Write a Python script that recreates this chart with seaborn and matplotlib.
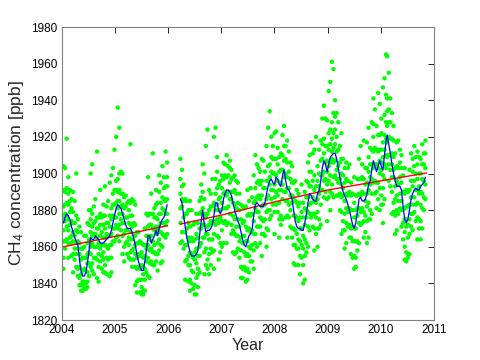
import numpy as np
import pandas as pd
import matplotlib
matplotlib.use("Agg")
import matplotlib.pyplot as plt
import seaborn as sns

# sample dates (decimal year); 2006.10 is the data gap
sample_year = [
    2004.03, 2004.06, 2004.09, 2004.12, 2004.15, 2004.18, 2004.21, 2004.24, 2004.27, 2004.30,
    2004.33, 2004.36, 2004.39, 2004.42, 2004.45, 2004.48, 2004.51, 2004.54, 2004.57, 2004.60,
    2004.63, 2004.66, 2004.69, 2004.72, 2004.75, 2004.78, 2004.81, 2004.84, 2004.87, 2004.90,
    2004.93, 2004.96, 2004.99, 2005.02, 2005.05, 2005.08, 2005.11, 2005.14, 2005.17, 2005.20,
    2005.23, 2005.26, 2005.29, 2005.32, 2005.35, 2005.38, 2005.41, 2005.44, 2005.47, 2005.50,
    2005.53, 2005.56, 2005.59, 2005.62, 2005.65, 2005.68, 2005.71, 2005.74, 2005.77, 2005.80,
    2005.83, 2005.86, 2005.89, 2005.92, 2005.95, 2005.98,
    2006.10,
    2006.23, 2006.26, 2006.29, 2006.32, 2006.35, 2006.38, 2006.41, 2006.44, 2006.47, 2006.50,
    2006.53, 2006.56, 2006.59, 2006.62, 2006.65, 2006.68, 2006.71, 2006.74, 2006.77, 2006.80,
    2006.83, 2006.86, 2006.89, 2006.92, 2006.95, 2006.98, 2007.01, 2007.04, 2007.07, 2007.10,
    2007.13, 2007.16, 2007.19, 2007.22, 2007.25, 2007.28, 2007.31, 2007.34, 2007.37, 2007.40,
    2007.43, 2007.46, 2007.49, 2007.52, 2007.55, 2007.58, 2007.61, 2007.64, 2007.67, 2007.70,
    2007.73, 2007.76, 2007.79, 2007.82, 2007.85, 2007.88, 2007.91, 2007.94, 2007.97, 2008.00,
    2008.03, 2008.06, 2008.09, 2008.12, 2008.15, 2008.18, 2008.21, 2008.24, 2008.27, 2008.30,
    2008.33, 2008.36, 2008.39, 2008.42, 2008.45, 2008.48, 2008.51, 2008.54, 2008.57, 2008.60,
    2008.63, 2008.66, 2008.69, 2008.72, 2008.75, 2008.78, 2008.81, 2008.84, 2008.87, 2008.90,
    2008.93, 2008.96, 2008.99, 2009.02, 2009.05, 2009.08, 2009.11, 2009.14, 2009.17, 2009.20,
    2009.23, 2009.26, 2009.29, 2009.32, 2009.35, 2009.38, 2009.41, 2009.44, 2009.47, 2009.50,
    2009.53, 2009.56, 2009.59, 2009.62, 2009.65, 2009.68, 2009.71, 2009.74, 2009.77, 2009.80,
    2009.83, 2009.86, 2009.89, 2009.92, 2009.95, 2009.98, 2010.01, 2010.04, 2010.07, 2010.10,
    2010.12, 2010.15, 2010.18, 2010.21, 2010.24, 2010.27, 2010.30, 2010.33, 2010.36, 2010.39,
    2010.42, 2010.45, 2010.48, 2010.51, 2010.54, 2010.57, 2010.60, 2010.63, 2010.66, 2010.69,
    2010.72, 2010.75, 2010.78, 2010.81, 2010.84,
]

# smoothed CH4 (blue curve), ppb
ch4_smooth = [
    1873, 1876, 1878, 1877, 1875, 1871, 1868, 1865, 1863, 1861,
    1853, 1847, 1844, 1844, 1846, 1851, 1858, 1865, 1864, 1864,
    1866, 1865, 1864, 1862, 1862, 1862, 1863, 1864, 1865, 1866,
    1869, 1873, 1877, 1881, 1883, 1882, 1881, 1878, 1875, 1872,
    1870, 1870, 1870, 1868, 1865, 1861, 1856, 1852, 1849, 1847,
    1847, 1852, 1858, 1866, 1866, 1862, 1864, 1866, 1869, 1866,
    1870, 1873, 1875, 1876, 1879, 1883,
    np.nan,
    1886, 1884, 1877, 1871, 1865, 1861, 1857, 1855, 1855, 1855,
    1856, 1858, 1866, 1874, 1880, 1872, 1868, 1869, 1869, 1870,
    1872, 1877, 1884, 1884, 1880, 1878, 1880, 1886, 1889, 1891,
    1891, 1890, 1888, 1884, 1880, 1877, 1874, 1872, 1868, 1864,
    1861, 1860, 1863, 1866, 1867, 1870, 1877, 1883, 1884, 1883,
    1882, 1882, 1882, 1884, 1889, 1893, 1896, 1897, 1895, 1894,
    1898, 1897, 1894, 1893, 1899, 1902, 1896, 1892, 1891, 1889,
    1886, 1880, 1874, 1871, 1870, 1870, 1869, 1869, 1873, 1878,
    1884, 1889, 1888, 1886, 1885, 1885, 1889, 1891, 1896, 1903,
    1907, 1905, 1901, 1905, 1909, 1910, 1911, 1911, 1908, 1903,
    1898, 1894, 1890, 1888, 1886, 1883, 1880, 1876, 1872, 1870,
    1873, 1879, 1886, 1887, 1885, 1885, 1886, 1889, 1894, 1896,
    1902, 1907, 1904, 1901, 1904, 1907, 1904, 1902, 1910, 1918,
    1921, 1916, 1911, 1905, 1900, 1896, 1893, 1893, 1893, 1891,
    1882, 1875, 1873, 1875, 1880, 1886, 1889, 1891, 1892, 1891,
    1891, 1893, 1894, 1895, 1898,
]

# individual CH4 readings at each sample date, ppb
ch4_obs = [
    # 2004.03 - 2005.98
    [1848, 1854, 1863, 1869, 1876, 1882, 1891, 1904], [1859, 1863, 1874, 1878, 1883, 1890, 1903],
    [1864, 1871, 1877, 1884, 1892, 1919], [1854, 1862, 1869, 1875, 1883, 1889, 1898],
    [1865, 1872, 1879, 1885, 1891], [1855, 1862, 1866, 1874, 1881, 1886],
    [1846, 1856, 1863, 1868, 1873, 1879, 1890], [1853, 1859, 1866, 1873, 1885],
    [1849, 1856, 1862, 1869, 1877, 1900], [1844, 1848, 1859, 1863, 1868, 1875],
    [1839, 1843, 1849, 1856, 1862, 1871], [1836, 1839, 1845, 1853, 1859, 1868],
    [1836, 1839, 1841, 1847, 1854, 1859], [1837, 1841, 1848, 1854, 1860, 1866],
    [1837, 1840, 1847, 1854, 1866], [1838, 1841, 1846, 1851, 1856, 1862, 1873],
    [1844, 1851, 1857, 1864, 1872, 1880], [1849, 1856, 1860, 1868, 1875, 1880, 1900],
    [1847, 1851, 1862, 1866, 1871, 1878, 1905], [1845, 1854, 1860, 1867, 1873, 1882],
    [1854, 1860, 1867, 1874, 1886], [1843, 1853, 1860, 1865, 1870, 1876, 1912],
    [1841, 1849, 1856, 1862, 1870, 1876], [1852, 1859, 1866, 1872, 1878, 1891],
    [1848, 1855, 1861, 1868, 1876], [1846, 1853, 1857, 1865, 1872, 1877, 1883],
    [1846, 1850, 1861, 1865, 1870, 1877, 1893], [1845, 1854, 1860, 1867, 1873, 1882],
    [1853, 1859, 1866, 1873, 1885], [1844, 1854, 1861, 1866, 1871, 1877, 1895],
    [1846, 1854, 1861, 1867, 1875, 1881, 1899], [1863, 1870, 1877, 1883, 1889, 1903],
    [1863, 1870, 1876, 1883, 1891, 1913], [1865, 1872, 1876, 1884, 1891, 1896, 1920],
    [1866, 1870, 1881, 1885, 1890, 1897, 1936], [1863, 1872, 1878, 1885, 1891, 1900, 1925],
    [1869, 1875, 1882, 1889, 1901], [1856, 1866, 1873, 1878, 1883, 1889, 1900],
    [1852, 1860, 1867, 1873, 1881, 1887], [1862, 1869, 1876, 1882, 1888],
    [1856, 1863, 1869, 1876, 1884], [1854, 1861, 1865, 1873, 1880, 1885],
    [1853, 1857, 1868, 1872, 1877, 1884, 1916], [1849, 1858, 1864, 1871, 1877, 1886],
    [1853, 1859, 1866, 1873, 1885], [1839, 1849, 1856, 1861, 1866, 1872, 1883],
    [1835, 1841, 1848, 1854, 1862, 1868], [1842, 1849, 1856, 1862, 1868],
    [1835, 1842, 1848, 1855, 1863], [1834, 1838, 1842, 1850, 1857, 1862],
    [1834, 1836, 1845, 1849, 1854, 1861], [1836, 1842, 1848, 1855, 1861, 1870],
    [1846, 1852, 1859, 1866, 1878], [1844, 1854, 1861, 1866, 1871, 1877, 1898],
    [1843, 1851, 1858, 1864, 1872, 1878], [1852, 1859, 1866, 1872, 1878, 1889],
    [1850, 1857, 1863, 1870, 1878, 1911], [1850, 1857, 1861, 1869, 1876, 1881],
    [1852, 1856, 1867, 1871, 1876, 1883, 1891], [1847, 1856, 1862, 1869, 1875, 1884],
    [1858, 1864, 1871, 1878, 1890, 1899], [1851, 1861, 1868, 1873, 1878, 1884, 1895],
    [1852, 1860, 1867, 1873, 1881, 1887, 1904], [1866, 1873, 1880, 1886, 1892, 1898],
    [1865, 1872, 1878, 1885, 1893, 1912], [1867, 1874, 1878, 1886, 1893, 1898, 1906],
    # gap
    [],
    # 2006.23 - 2010.84
    [1862, 1873, 1881, 1889, 1897, 1908], [1863, 1868, 1882, 1886, 1893, 1902],
    [1859, 1868, 1876, 1885, 1894], [1842, 1852, 1861, 1868, 1878, 1886],
    [1853, 1861, 1870, 1878, 1885], [1841, 1850, 1855, 1865, 1873, 1880],
    [1836, 1842, 1850, 1857, 1863, 1871, 1885], [1840, 1847, 1856, 1865, 1880],
    [1837, 1846, 1854, 1863, 1872], [1834, 1839, 1853, 1857, 1864, 1873],
    [1834, 1843, 1851, 1859, 1867, 1878], [1838, 1845, 1848, 1855, 1865, 1873],
    [1846, 1855, 1860, 1870, 1878, 1885], [1862, 1870, 1879, 1887, 1894],
    [1865, 1872, 1881, 1890, 1905], [1845, 1857, 1865, 1872, 1878, 1886, 1900],
    [1850, 1859, 1867, 1876, 1915], [1848, 1853, 1867, 1871, 1878, 1924],
    [1845, 1856, 1864, 1872, 1880, 1891], [1850, 1859, 1864, 1874, 1882, 1889],
    [1857, 1864, 1873, 1882, 1897], [1848, 1858, 1867, 1874, 1884, 1920],
    [1872, 1880, 1889, 1897, 1925], [1866, 1875, 1883, 1892, 1901, 1909],
    [1853, 1865, 1873, 1880, 1886, 1894], [1857, 1862, 1876, 1880, 1887, 1896],
    [1860, 1869, 1874, 1884, 1892, 1899], [1862, 1873, 1881, 1889, 1897, 1906],
    [1874, 1881, 1890, 1899, 1905], [1862, 1872, 1881, 1888, 1898, 1910],
    [1873, 1882, 1890, 1899, 1904], [1878, 1886, 1895, 1903, 1907],
    [1867, 1872, 1886, 1890, 1897, 1902], [1857, 1869, 1877, 1884, 1890, 1898],
    [1856, 1867, 1875, 1883, 1891, 1899], [1857, 1866, 1871, 1881, 1889, 1896],
    [1859, 1866, 1875, 1884, 1895], [1854, 1863, 1871, 1880, 1889],
    [1843, 1849, 1858, 1865, 1875, 1883], [1843, 1848, 1862, 1866, 1873, 1882],
    [1849, 1857, 1866, 1874, 1881], [1841, 1847, 1855, 1863, 1871, 1882],
    [1842, 1848, 1856, 1863, 1869, 1877, 1891], [1846, 1855, 1860, 1870, 1878, 1885],
    [1852, 1859, 1868, 1877, 1892], [1852, 1861, 1869, 1878, 1887],
    [1848, 1858, 1867, 1874, 1884, 1899], [1862, 1867, 1881, 1885, 1892, 1910],
    [1860, 1871, 1879, 1887, 1895, 1905], [1871, 1879, 1888, 1896, 1903],
    [1862, 1871, 1876, 1886, 1894, 1901], [1855, 1867, 1875, 1882, 1888, 1896, 1908],
    [1867, 1874, 1883, 1892, 1907], [1866, 1875, 1883, 1892, 1901],
    [1860, 1870, 1879, 1886, 1896, 1915], [1869, 1880, 1888, 1896, 1904, 1925],
    [1875, 1880, 1894, 1898, 1905, 1934], [1877, 1886, 1891, 1901, 1909, 1920],
    [1883, 1891, 1900, 1908, 1915], [1867, 1879, 1887, 1894, 1900, 1908, 1922],
    [1883, 1890, 1899, 1908, 1923], [1879, 1888, 1896, 1905, 1914],
    [1865, 1875, 1884, 1891, 1901, 1909], [1872, 1877, 1891, 1895, 1902, 1911],
    [1875, 1886, 1894, 1902, 1910, 1921], [1890, 1898, 1907, 1915, 1926],
    [1876, 1885, 1890, 1900, 1908, 1915], [1865, 1877, 1885, 1892, 1898, 1906, 1918],
    [1876, 1883, 1892, 1901, 1912], [1871, 1880, 1888, 1897, 1906],
    [1865, 1870, 1884, 1888, 1895, 1904], [1851, 1861, 1870, 1877, 1887, 1895],
    [1850, 1861, 1869, 1877, 1885, 1896], [1859, 1867, 1876, 1884, 1891],
    [1850, 1859, 1864, 1874, 1882, 1889], [1845, 1855, 1863, 1870, 1876, 1884],
    [1854, 1861, 1870, 1879, 1894], [1840, 1850, 1859, 1866, 1876, 1884],
    [1842, 1855, 1864, 1872, 1881, 1890], [1857, 1862, 1876, 1880, 1887, 1896],
    [1860, 1871, 1879, 1887, 1895, 1906], [1869, 1878, 1883, 1893, 1901, 1910],
    [1876, 1884, 1893, 1901, 1917], [1871, 1878, 1887, 1896, 1911],
    [1858, 1870, 1878, 1885, 1891, 1899, 1913], [1867, 1876, 1884, 1893, 1920],
    [1860, 1870, 1879, 1886, 1896, 1904], [1870, 1875, 1889, 1893, 1900, 1913],
    [1872, 1883, 1891, 1899, 1907, 1918], [1891, 1899, 1908, 1916, 1930],
    [1887, 1896, 1901, 1911, 1919, 1937], [1890, 1897, 1906, 1915, 1930],
    [1874, 1886, 1894, 1901, 1907, 1915, 1929], [1887, 1896, 1904, 1913, 1922, 1945],
    [1880, 1890, 1899, 1906, 1916, 1924, 1950], [1889, 1894, 1908, 1912, 1919, 1928, 1961],
    [1887, 1898, 1906, 1914, 1922, 1933, 1957], [1899, 1907, 1916, 1924, 1931, 1940],
    [1888, 1897, 1902, 1912, 1920, 1933], [1888, 1895, 1904, 1913, 1928],
    [1880, 1889, 1897, 1906, 1915], [1867, 1879, 1887, 1894, 1900, 1908, 1922],
    [1869, 1874, 1888, 1892, 1899, 1908], [1859, 1869, 1878, 1885, 1895, 1903],
    [1862, 1873, 1881, 1889, 1897, 1906], [1871, 1879, 1888, 1896, 1903],
    [1865, 1872, 1881, 1890, 1905], [1856, 1865, 1870, 1880, 1888, 1895],
    [1854, 1863, 1871, 1880, 1889], [1848, 1855, 1863, 1870, 1876, 1884, 1898],
    [1849, 1854, 1863, 1870, 1880, 1888], [1858, 1863, 1877, 1881, 1888, 1897],
    [1862, 1873, 1881, 1889, 1897, 1908], [1872, 1879, 1888, 1897, 1915],
    [1873, 1881, 1890, 1898, 1905], [1865, 1874, 1879, 1889, 1897, 1918],
    [1868, 1877, 1885, 1894, 1903], [1862, 1874, 1882, 1889, 1895, 1903, 1917],
    [1865, 1875, 1884, 1891, 1901, 1909, 1925], [1875, 1880, 1894, 1898, 1905, 1914],
    [1878, 1889, 1897, 1905, 1913, 1928], [1895, 1903, 1912, 1920, 1927, 1941],
    [1889, 1896, 1905, 1914, 1935], [1881, 1890, 1895, 1905, 1913, 1926],
    [1886, 1895, 1903, 1912, 1921, 1944], [1880, 1892, 1900, 1907, 1913, 1921, 1938],
    [1883, 1888, 1902, 1906, 1913, 1922, 1930], [1873, 1883, 1892, 1899, 1909, 1917, 1947],
    [1886, 1897, 1905, 1913, 1921, 1932, 1952], [1903, 1910, 1919, 1928, 1943, 1965],
    [1909, 1917, 1926, 1934, 1941, 1964], [1896, 1905, 1910, 1920, 1928, 1935, 1955],
    [1893, 1902, 1910, 1919, 1928, 1941], [1878, 1890, 1898, 1905, 1911, 1919, 1933],
    [1879, 1884, 1898, 1902, 1909, 1918, 1926], [1867, 1877, 1886, 1893, 1903, 1911],
    [1869, 1880, 1888, 1896, 1904, 1917], [1878, 1885, 1894, 1903, 1918],
    [1881, 1889, 1898, 1906, 1913], [1871, 1880, 1885, 1895, 1903, 1910],
    [1864, 1873, 1881, 1890, 1899], [1853, 1860, 1868, 1875, 1881, 1889, 1903],
    [1852, 1857, 1871, 1875, 1882, 1891], [1854, 1856, 1865, 1872, 1882, 1890],
    [1856, 1867, 1875, 1883, 1891, 1902], [1871, 1878, 1887, 1896, 1911],
    [1869, 1878, 1883, 1893, 1901, 1908], [1879, 1887, 1896, 1904, 1915],
    [1874, 1883, 1891, 1900, 1909], [1864, 1876, 1884, 1891, 1897, 1905, 1912],
    [1870, 1875, 1889, 1893, 1900, 1909], [1864, 1874, 1883, 1890, 1900, 1908],
    [1870, 1881, 1889, 1897, 1905, 1916], [1880, 1887, 1896, 1905, 1911],
    [1886, 1894, 1903, 1911, 1918],
]

# linear trends (red), one per record segment
trend_year = [2004.03, 2005.99, 2006.23, 2007.0, 2008.0, 2009.0, 2010.0, 2010.86]
trend_ch4 = [1860.0, 1871.5, 1872.4, 1877.3, 1884.5, 1891.0, 1896.0, 1900.3]
trend_seg = [1, 1, 2, 2, 2, 2, 2, 2]

obs = pd.DataFrame(
    [(yr, v) for yr, vals in zip(sample_year, ch4_obs) for v in vals],
    columns=["year", "ch4"],
)
smooth = pd.DataFrame({"year": sample_year, "ch4": ch4_smooth})
smooth["seg"] = np.where(smooth["year"] < 2006.1, 1, 2)
smooth = smooth.dropna()
trend = pd.DataFrame({"year": trend_year, "ch4": trend_ch4, "seg": trend_seg})

sns.set_style("white")
plt.rcParams["font.family"] = ["Liberation Sans", "DejaVu Sans"]
plt.rcParams["mathtext.default"] = "regular"

fig = plt.figure(figsize=(4.8, 3.6), dpi=100)
ax = fig.add_axes([0.129, 0.111, 0.775, 0.814])

sns.scatterplot(data=obs, x="year", y="ch4", color="#00ff00", s=10,
                linewidth=0, edgecolor="none", ax=ax, legend=False, zorder=1)
sns.lineplot(data=smooth, x="year", y="ch4", units="seg", estimator=None,
             color="#0000ff", linewidth=0.9, ax=ax, legend=False, zorder=3)
sns.lineplot(data=trend, x="year", y="ch4", units="seg", estimator=None,
             color="#ff0000", linewidth=1.0, ax=ax, legend=False, zorder=2)

ax.set_xlim(2004, 2011)
ax.set_ylim(1820, 1980)
ax.set_xticks(range(2004, 2012))
ax.set_yticks(range(1820, 1981, 20))
ax.tick_params(direction="in", length=4, width=0.6, top=True, right=True,
               labelsize=8.5, colors="#000000", pad=3)
for sp in ax.spines.values():
    sp.set_color("#808080")
    sp.set_linewidth(0.8)
    sp.set_visible(True)

ax.set_xlabel("Year", fontsize=11.5, labelpad=1)
ax.set_ylabel("CH$_4$ concentration [ppb]", fontsize=12.5, labelpad=4)

fig.savefig("out.png", dpi=100)
